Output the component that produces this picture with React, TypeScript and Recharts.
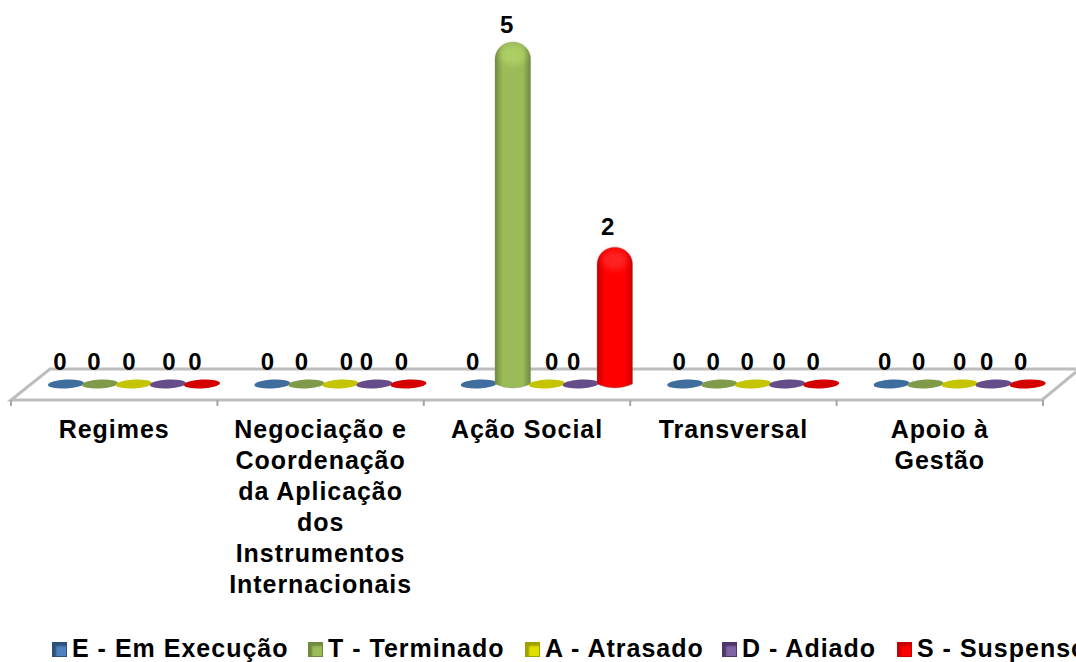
import React from "react";
import { BarChart, Bar, XAxis, YAxis, Legend, LabelList, Customized } from "recharts";

const categories = ["Regimes", "Negociação e Coordenação da Aplicação dos Instrumentos Internacionais", "Ação Social", "Transversal", "Apoio à Gestão"];
const categoryLines: Record<string, string[]> = {
  "Regimes": ["Regimes"],
  "Negociação e Coordenação da Aplicação dos Instrumentos Internacionais": ["Negociação e", "Coordenação", "da Aplicação", "dos", "Instrumentos", "Internacionais"],
  "Ação Social": ["Ação Social"],
  "Transversal": ["Transversal"],
  "Apoio à Gestão": ["Apoio à", "Gestão"],
};
const emExecucao = [0, 0, 0, 0, 0];
const terminado = [0, 0, 5, 0, 0];
const atrasado = [0, 0, 0, 0, 0];
const adiado = [0, 0, 0, 0, 0];
const suspenso = [0, 0, 2, 0, 0];

const seriesNames = ["E - Em Execução", "T - Terminado", "A - Atrasado", "D - Adiado", "S - Suspenso"];
const seriesKeys = ["e", "t", "a", "d", "s"];
const seriesValues = [emExecucao, terminado, atrasado, adiado, suspenso];
const data = categories.map((name, i) => {
  const row: Record<string, string | number> = { name };
  seriesKeys.forEach((k, s) => { row[k] = seriesValues[s][i]; });
  return row;
});

// styling, not data
const PALETTE = [
  { flat: "#3f6d9e", mid: "#4f81bd", edge: "#2c5079", light: "#6f9bd0" },
  { flat: "#7f9a48", mid: "#9bbb59", edge: "#6f8a3c", light: "#b4d868" },
  { flat: "#c4c400", mid: "#e0e000", edge: "#a0a000", light: "#f0f040" },
  { flat: "#674c8a", mid: "#8064a2", edge: "#4c3768", light: "#9b80bd" },
  { flat: "#d40000", mid: "#ff0000", edge: "#c80000", light: "#ff3030" },
];
const DEPTH_X = 20;
const LEGEND_SLOTS = [52, 308, 525, 722, 897];
const LABEL_NUDGE = [
  [-6, -6, -5, 1, -7],
  [-5, -5, 6, -8, -7],
  [-6, -6, 5, -7, -7],
  [-6, -6, -6, -8, -8],
  [-7, -7, 0, -7, -7],
];
const LABEL_LIFT = [14, 14, 14, 14, 12];
const FONT = "'Liberation Sans', Arial, sans-serif";

function Cylinder(s: number) {
  return (p: any) => {
    const { x, y, width, height } = p;
    const c = PALETTE[s];
    const cx = x + width / 2 + DEPTH_X;
    const base = y + height;
    if (!height) {
      return <ellipse cx={cx} cy={base} rx={width / 2 + 1} ry={4.5} fill={c.flat} transform={`rotate(-3 ${cx} ${base})`} />;
    }
    const hw = width / 2 + 0.8;
    const l = cx - hw;
    const r = cx + hw;
    const d = `M${l} ${base} L${l} ${y + 17} A${hw} 17 0 0 1 ${r} ${y + 17} L${r} ${base} Q${cx} ${base + 8} ${l} ${base} Z`;
    return (
      <g>
        <path d={d} fill={`url(#cyl${s})`} stroke="#8a8a8a" strokeOpacity={0.35} />
        <ellipse cx={cx} cy={y + 13} rx={hw - 5} ry={10} fill={c.light} opacity={0.7} filter="url(#soft)" />
      </g>
    );
  };
}

function ValueLabel(s: number) {
  return (p: any) => {
    const { x, y, width, value, index } = p;
    const cx = x + width / 2 + DEPTH_X + LABEL_NUDGE[index][s];
    const cy = value ? y - (s === 1 ? 9 : 12) : y - LABEL_LIFT[0];
    return (
      <text x={cx} y={cy} textAnchor="middle" fontFamily={FONT} fontWeight={700} fontSize={24} fill="#000">
        {value}
      </text>
    );
  };
}

function Tick(p: any) {
  const { x, payload, index } = p;
  const lines = categoryLines[payload.value] || [payload.value];
  return (
    <g>
      <line x1={x - 103.2} x2={x - 103.2} y1={400} y2={406} stroke="#a6a6a6" strokeWidth={2} />
      {index === categories.length - 1 && <line x1={x + 103.2} x2={x + 103.2} y1={400} y2={406} stroke="#a6a6a6" strokeWidth={2} />}
      {lines.map((t, i) => (
        <text key={i} x={x} y={438 + i * 31} textAnchor="middle" fontFamily={FONT} fontWeight={700} fontSize={25} letterSpacing={0.95} fill="#000">
          {t}
        </text>
      ))}
    </g>
  );
}

function Floor() {
  return (
    <g>
      <polygon points="50,369 1076,369 1076,372 1042,400 11,400" fill="#fff" />
      <path d="M1076 369 L50 369 L11 400 L1042 400 L1076 372" fill="none" stroke="#bdbdbd" strokeWidth={3} />
    </g>
  );
}

function Defs() {
  return (
    <defs>
      <filter id="soft" x="-50%" y="-50%" width="200%" height="200%"><feGaussianBlur stdDeviation="3" /></filter>
      {PALETTE.map((c, i) => (
        <linearGradient key={i} id={`cyl${i}`} x1="0" x2="1" y1="0" y2="0">
          <stop offset="0" stopColor={c.edge} />
          <stop offset="0.22" stopColor={c.mid} />
          <stop offset="0.78" stopColor={c.mid} />
          <stop offset="1" stopColor={c.edge} />
        </linearGradient>
      ))}
    </defs>
  );
}

function LegendBox() {
  return (
    <div style={{ position: "relative", width: 1076, height: 30, overflow: "hidden", fontFamily: FONT, fontWeight: 700, fontSize: 25, letterSpacing: 1, color: "#000" }}>
      {seriesNames.map((n, i) => (
        <div key={n} style={{ position: "absolute", left: LEGEND_SLOTS[i], top: 0, height: 30, whiteSpace: "nowrap" }}>
          <span style={{ position: "absolute", left: 0, top: 10, width: 13, height: 13, background: PALETTE[i].mid, border: `1px solid ${PALETTE[i].edge}`, boxShadow: `inset 3px 3px 2px ${PALETTE[i].edge}` }} />
          <span style={{ position: "absolute", left: 20, top: 2, lineHeight: "28px" }}>{n}</span>
        </div>
      ))}
    </div>
  );
}

export default function App() {
  return (
    <div style={{ position: "absolute", left: 0, top: 0, width: 1076, height: 662, overflow: "hidden", background: "#fff" }}>
      <BarChart width={1076} height={662} data={data} margin={{ top: 42, right: 33, bottom: 0, left: 11 }} barCategoryGap={18} barGap={0}>
        <Customized component={Defs} />
        <Customized component={Floor} />
        <XAxis dataKey="name" height={248} interval={0} tick={Tick} axisLine={false} tickLine={false} />
        <YAxis hide domain={[0, 5]} width={0} />
        <Legend verticalAlign="bottom" content={LegendBox} wrapperStyle={{ left: 0, bottom: 0, width: 1076, height: 30 }} />
        {seriesKeys.map((k, s) => (
          <Bar key={k} dataKey={k} name={seriesNames[s]} fill={PALETTE[s].mid} isAnimationActive={false} shape={Cylinder(s)}>
            <LabelList dataKey={k} content={ValueLabel(s)} />
          </Bar>
        ))}
      </BarChart>
    </div>
  );
}
